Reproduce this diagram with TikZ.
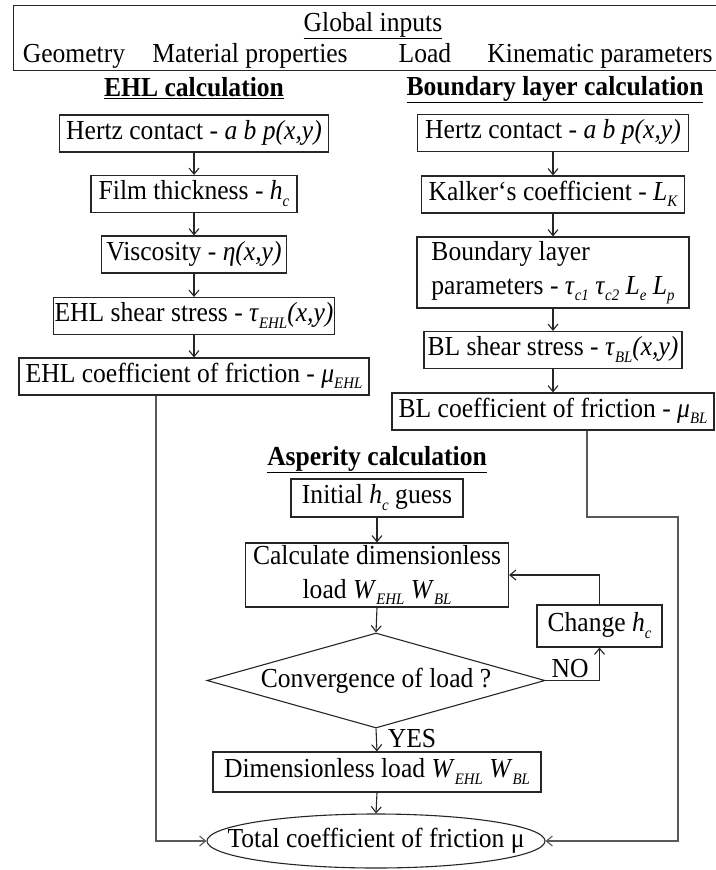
\documentclass[tikz,border=0pt]{standalone}
\usepackage{fontspec}
\setmainfont{Liberation Serif}[FakeStretch=0.93]
\usetikzlibrary{arrows.meta,shapes.geometric,calc}
\newcommand\mysub[1]{\raisebox{-6.5pt}{\fontsize{16}{16}\selectfont\itshape #1}}
\begin{document}
\begin{tikzpicture}[x=1pt,y=1pt,
  every node/.style={font=\fontsize{27.5}{34}\selectfont},
  box/.style={draw=black!85, line width=1.2pt, inner sep=0pt, minimum height=37pt, text height=18pt, text depth=7pt},
  boxtwo/.style={draw=black!85, line width=1.2pt, inner sep=0pt},
  conn/.style={draw=black!65, line width=1.1pt},
  arr/.style={conn, -{Straight Barb[length=6pt,width=10pt]}},
  shortarr/.style={arr, draw=black!85},
  head/.style={font=\fontsize{27.5}{32}\selectfont\bfseries, anchor=base},
  lbl/.style={anchor=base}]
\useasboundingbox (0,0) rectangle (715,-870);

% global inputs
\node[draw=black!85, line width=1.2pt, minimum width=706pt, minimum height=65pt, anchor=north west, inner sep=0pt] (inputs) at (13,-5) {};
\node[lbl] (gi) at (373,-31) {\underline{Global inputs}};
\node[lbl] (geo) at (74,-62) {Geometry};
\node[lbl] (mat) at (250,-62) {Material properties};
\node[lbl] (load) at (425,-62) {Load};
\node[lbl] (kin) at (600,-62) {Kinematic parameters};

% headings
\node[head] (hehl) at (194,-96) {\underline{EHL calculation}};
\node[head] (hbl) at (555,-95) {\underline{Boundary layer calculation}};
\node[head] (hasp) at (377,-465) {\underline{Asperity calculation}};

% EHL column
\node[box, minimum width=269pt] (E1) at (194,-133.5) {Hertz contact - \textit{a b p(x,y)}};
\node[box, minimum width=206pt] (E2) at (194,-194) {Film thickness - \textit{h}\mysub{c}};
\node[box, minimum width=185pt] (E3) at (194,-254.5) {Viscosity - \textit{η(x,y)}};
\node[box, minimum width=281pt] (E4) at (194,-316) {EHL shear stress - \textit{τ}\mysub{EHL}\textit{(x,y)}};
\node[box, minimum width=350pt] (E5) at (194,-376.5) {EHL coefficient of friction - \textit{μ}\mysub{EHL}};

% BL column
\node[box, minimum width=271pt] (B1) at (553,-133) {Hertz contact - \textit{a b p(x,y)}};
\node[box, minimum width=263pt] (B2) at (553,-194.5) {Kalker‘s coefficient - \textit{L}\mysub{K}};
\node[boxtwo, minimum width=272pt, minimum height=71pt, align=left] (B3) at (553,-272.5) {Boundary layer\\parameters - \textit{τ}\mysub{c1} \textit{τ}\mysub{c2} \textit{L}\mysub{e} \textit{L}\mysub{p}};
\node[box, minimum width=258pt] (B4) at (553,-350) {BL shear stress - \textit{τ}\mysub{BL}\textit{(x,y)}};
\node[box, minimum width=322pt] (B5) at (553,-411.5) {BL coefficient of friction - \textit{μ}\mysub{BL}};

% asperity
\node[box, minimum width=172pt, minimum height=38pt] (A1) at (377,-498) {Initial \textit{h}\mysub{c} guess};
\node[boxtwo, minimum width=263pt, minimum height=64pt, align=center] (A2) at (377,-575) {Calculate dimensionless\\load \textit{W}\mysub{EHL} \textit{W}\mysub{BL}};
\node[diamond, draw=black!85, line width=1.1pt, inner sep=0pt, aspect=3.5, minimum width=338pt, minimum height=95pt] (D) at (376,-680.5) {\makebox[0pt]{Convergence of load ?}};
\node[box, minimum width=328pt, minimum height=40pt] (A3) at (377,-772) {Dimensionless load \textit{W}\mysub{EHL} \textit{W}\mysub{BL}};
\node[ellipse, draw=black!85, line width=1.1pt, inner sep=0pt, minimum width=338pt, minimum height=54pt] (T) at (376,-841) {\makebox[0pt]{Total coefficient of friction μ}};
\node[box, minimum width=125pt, minimum height=42pt] (C) at (599.5,-626) {Change \textit{h}\mysub{c}};

\node[lbl] (no) at (570,-677) {NO};
\node[lbl] (yes) at (412,-747) {YES};

% connectors
\foreach \a/\b in {E1/E2,E2/E3,E3/E4,E4/E5,B1/B2,B2/B3,B3/B4,B4/B5,A1/A2,A2/D,D/A3,A3/T}
  \draw[shortarr] (\a.south) -- (\b.north);

\coordinate (lx) at (156,0);
\coordinate (bx) at (587,0);
\coordinate (rx) at (678,-517);
\draw[arr] (E5.south -| lx) |- (T.west);
\draw[arr] (B5.south -| bx) |- (rx) |- (T.east);
\draw[shortarr] (D.east) -| (C.south);
\draw[shortarr] (C.north) |- (A2.east);
\end{tikzpicture}
\end{document}
